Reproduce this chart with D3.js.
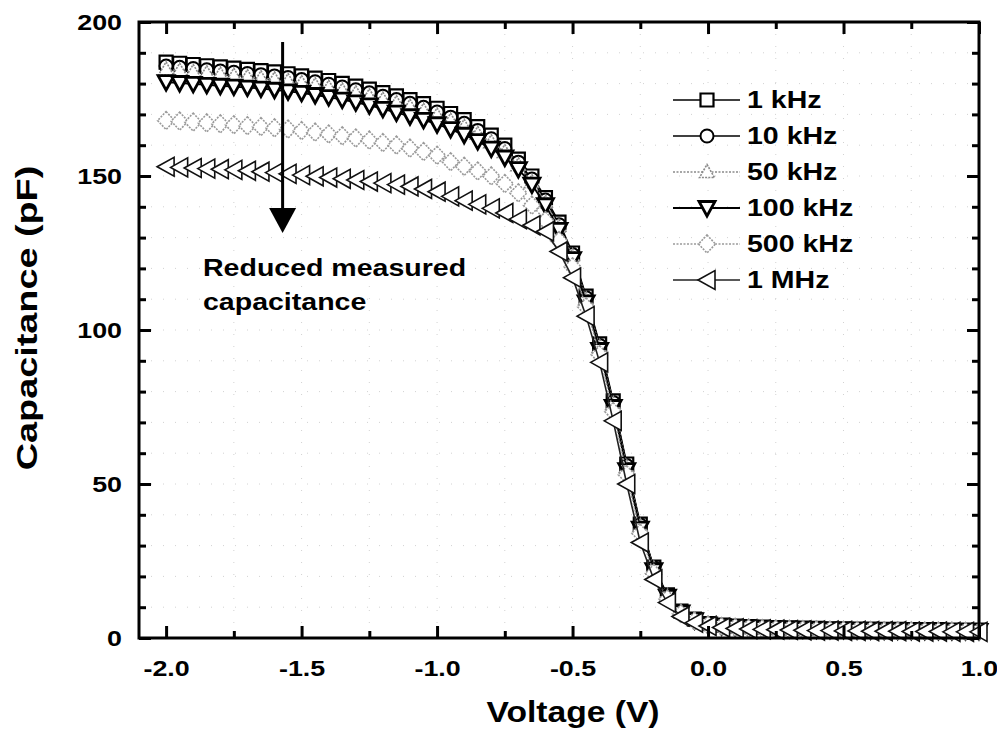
<!DOCTYPE html>
<html>
<head>
<meta charset="utf-8">
<script src="https://cdn.jsdelivr.net/npm/d3@7"></script>
<style>
  html, body { margin: 0; padding: 0; background: #fff; }
  svg { display: block; }
  text { font-family: "Liberation Sans", Arial, sans-serif; font-weight: bold; fill: #000; }
</style>
</head>
<body>
<svg id="chart" width="997" height="740"></svg>
<script>
// Gate-voltage sweep (V)
const voltages = [
  -2.0, -1.95, -1.9, -1.85, -1.8, -1.75, -1.7, -1.65, -1.6, -1.55,
  -1.5, -1.45, -1.4, -1.35, -1.3, -1.25, -1.2, -1.15, -1.1, -1.05,
  -1.0, -0.95, -0.9, -0.85, -0.8, -0.75, -0.7, -0.65, -0.6, -0.55,
  -0.5, -0.45, -0.4, -0.35, -0.3, -0.25, -0.2, -0.15, -0.1, -0.05,
  0.0, 0.05, 0.1, 0.15, 0.2, 0.25, 0.3, 0.35, 0.4, 0.45,
  0.5, 0.55, 0.6, 0.65, 0.7, 0.75, 0.8, 0.85, 0.9, 0.95, 1.0
];

// Measured capacitance (pF) at each test frequency
const cap1k = [
  187.0, 186.6, 186.2, 185.8, 185.4, 185.0, 184.6, 184.2, 183.8, 183.2,
  182.5, 181.8, 181.0, 180.1, 179.2, 178.2, 177.1, 176.0, 174.8, 173.5,
  172.0, 170.3, 168.3, 166.0, 163.3, 160.0, 155.5, 150.0, 143.0, 135.0,
  125.0, 111.0, 95.5, 77.0, 56.5, 37.0, 23.0, 14.0, 8.7, 6.1,
  4.7, 4.2, 3.9, 3.7, 3.5, 3.4, 3.3, 3.2, 3.1, 3.0,
  3.0, 2.9, 2.9, 2.8, 2.8, 2.7, 2.7, 2.7, 2.6, 2.6, 2.6
];
const cap10k = [
  185.7, 185.3, 184.9, 184.5, 184.1, 183.7, 183.3, 182.9, 182.5, 182.0,
  181.3, 180.6, 179.8, 178.9, 178.0, 177.0, 175.9, 174.8, 173.6, 172.3,
  170.8, 169.1, 167.1, 164.8, 162.1, 158.9, 154.5, 149.0, 142.2, 134.2,
  124.5, 110.5, 95.0, 76.5, 56.0, 36.7, 22.8, 13.9, 8.6, 6.0,
  4.6, 4.1, 3.8, 3.6, 3.4, 3.3, 3.2, 3.1, 3.0, 2.9,
  2.9, 2.8, 2.8, 2.7, 2.7, 2.6, 2.6, 2.6, 2.5, 2.5, 2.5
];
const cap50k = [
  184.6, 184.2, 183.8, 183.4, 183.0, 182.6, 182.2, 181.8, 181.4, 180.9,
  180.2, 179.5, 178.7, 177.8, 176.9, 175.9, 174.8, 173.7, 172.5, 171.2,
  169.7, 168.0, 166.0, 163.7, 161.0, 157.8, 153.5, 148.0, 141.4, 133.5,
  124.0, 110.0, 94.5, 76.0, 55.5, 36.3, 22.5, 13.7, 8.5, 5.9,
  4.5, 4.0, 3.7, 3.5, 3.3, 3.2, 3.1, 3.0, 2.9, 2.8,
  2.8, 2.7, 2.7, 2.6, 2.6, 2.5, 2.5, 2.5, 2.4, 2.4, 2.4
];
const cap100k = [
  180.5, 180.2, 179.9, 179.6, 179.3, 179.0, 178.7, 178.4, 178.0, 177.5,
  177.0, 176.3, 175.6, 174.8, 173.9, 172.9, 171.8, 170.6, 169.4, 168.2,
  166.8, 165.2, 163.4, 161.3, 158.9, 156.0, 152.2, 147.2, 140.5, 132.5,
  123.0, 109.0, 93.5, 75.0, 54.5, 35.5, 22.0, 13.4, 8.3, 5.8,
  4.4, 3.9, 3.6, 3.4, 3.2, 3.1, 3.0, 2.9, 2.8, 2.7,
  2.7, 2.6, 2.6, 2.5, 2.5, 2.4, 2.4, 2.4, 2.3, 2.3, 2.3
];
const cap500k = [
  168.0, 167.8, 167.5, 167.2, 166.9, 166.6, 166.3, 166.0, 165.6, 165.2,
  164.7, 164.2, 163.6, 163.0, 162.3, 161.6, 160.8, 160.0, 159.0, 157.9,
  156.7, 154.6, 153.1, 151.6, 150.0, 147.5, 144.5, 140.5, 135.5, 129.0,
  120.5, 107.5, 92.0, 73.5, 53.0, 34.0, 21.0, 12.7, 7.9, 5.5,
  4.2, 3.7, 3.4, 3.2, 3.0, 2.9, 2.8, 2.7, 2.6, 2.5,
  2.5, 2.4, 2.4, 2.3, 2.3, 2.3, 2.2, 2.2, 2.2, 2.1, 2.1
];
const cap1M = [
  153.0, 152.8, 152.6, 152.4, 152.2, 152.0, 151.7, 151.4, 151.1, 150.7,
  150.3, 149.9, 149.5, 149.1, 148.7, 148.2, 147.7, 147.2, 146.6, 145.8,
  144.9, 143.4, 142.0, 140.8, 139.5, 138.0, 136.0, 134.0, 132.0, 125.5,
  117.0, 104.5, 89.5, 70.5, 50.0, 31.0, 19.0, 11.5, 7.0, 5.0,
  3.9, 3.4, 3.1, 2.9, 2.8, 2.7, 2.6, 2.5, 2.4, 2.4,
  2.3, 2.3, 2.2, 2.2, 2.2, 2.1, 2.1, 2.1, 2.0, 2.0, 2.0
];

const seriesNames = ["1 kHz", "10 kHz", "50 kHz", "100 kHz", "500 kHz", "1 MHz"];
const seriesValues = [cap1k, cap10k, cap50k, cap100k, cap500k, cap1M];

// Axis ticks and labels
const xMajorTicks = [-2.0, -1.5, -1.0, -0.5, 0.0, 0.5, 1.0];
const xTickLabels = ["-2.0", "-1.5", "-1.0", "-0.5", "0.0", "0.5", "1.0"];
const xMinorTicks = [-1.75, -1.25, -0.75, -0.25, 0.25, 0.75];
const yMajorTicks = [0, 50, 100, 150, 200];
const yTickLabels = ["0", "50", "100", "150", "200"];
const yMinorTicks = [10, 20, 30, 40, 60, 70, 80, 90, 110, 120, 130, 140, 160, 170, 180, 190];

// Annotation: arrow pointing toward lower capacitance at higher frequency
const arrowVoltage = -1.57;
const arrowFrom = 193.5;
const arrowTo = 131.5;
const noteLines = ["Reduced measured", "capacitance"];

// ---------- drawing ----------
const svg = d3.select("#chart");
const plotL = 139, plotR = 979, plotT = 22, plotB = 638;

const x = d3.scaleLinear().domain([-2.1, 1.0]).range([plotL, plotR]);
const y = d3.scaleLinear().domain([0, 200]).range([plotB, plotT]);

// stretch text horizontally (the bold face in this figure is wide)
function widen(sel, k) {
  sel.each(function () {
    const w = this.getComputedTextLength();
    d3.select(this).attr("textLength", w * k).attr("lengthAdjust", "spacingAndGlyphs");
  });
}

// faint dotted grid
const grid = svg.append("g").attr("stroke", "#d2d2d2").attr("stroke-width", 1)
  .attr("stroke-dasharray", "1,11");
grid.selectAll("line.gx").data(xMinorTicks.concat([-1.5, -1.0, -0.5, 0.0, 0.5]))
  .join("line").attr("class", "gx").attr("x1", d => x(d)).attr("x2", d => x(d))
  .attr("y1", plotT).attr("y2", plotB);
grid.selectAll("line.gy").data(yMinorTicks.concat([50, 100, 150]))
  .join("line").attr("class", "gy").attr("x1", plotL).attr("x2", plotR)
  .attr("y1", d => y(d)).attr("y2", d => y(d));

// marker shapes
const shapes = {
  square: "M-6.5,-6.5H6.5V6.5H-6.5Z",
  circle: "M6.5,0A6.5,6.5 0 1 1 -6.5,0A6.5,6.5 0 1 1 6.5,0Z",
  up: "M0,-7.5L7.5,5.5L-7.5,5.5Z",
  down: "M-8,-6.5L8,-6.5L0,8Z",
  diamond: "M0,-9L8.5,0L0,9L-8.5,0Z",
  left: "M-9,0L8,-9.5L8,9.5Z"
};
const styles = [
  { shape: "square",  line: "#000", lw: 1.6, dash: null,   stroke: "#000", sw: 2.2, sdash: null },
  { shape: "circle",  line: "#000", lw: 1.6, dash: null,   stroke: "#000", sw: 2.0, sdash: null },
  { shape: "up",      line: "#8a8a8a", lw: 1.5, dash: "2,1.5", stroke: "#8a8a8a", sw: 1.6, sdash: "2,1.2" },
  { shape: "down",    line: "#000", lw: 1.8, dash: null,   stroke: "#000", sw: 2.8, sdash: null },
  { shape: "diamond", line: "#9a9a9a", lw: 1.5, dash: "2,1.5", stroke: "#9a9a9a", sw: 1.6, sdash: "2,1.2" },
  { shape: "left",    line: "#222", lw: 1.6, dash: null,   stroke: "#111", sw: 1.6, sdash: null }
];

const lineGen = d3.line().x(d => x(d[0])).y(d => y(d[1]));

seriesValues.forEach((vals, i) => {
  const st = styles[i];
  const pts = voltages.map((v, j) => [v, vals[j]]);
  const g = svg.append("g");
  g.append("path").datum(pts).attr("d", lineGen).attr("fill", "none")
    .attr("stroke", st.line).attr("stroke-width", st.lw)
    .attr("stroke-dasharray", st.dash);
  g.selectAll("path.m").data(pts).join("path").attr("class", "m")
    .attr("transform", d => `translate(${x(d[0])},${y(d[1])})`)
    .attr("d", shapes[st.shape]).attr("fill", "#fff")
    .attr("stroke", st.stroke).attr("stroke-width", st.sw)
    .attr("stroke-dasharray", st.sdash);
});

// frame
svg.append("rect").attr("x", plotL).attr("y", plotT).attr("width", plotR - plotL).attr("height", plotB - plotT)
  .attr("fill", "none").attr("stroke", "#000").attr("stroke-width", 3);

// axes with inward ticks
function styleAxis(g) {
  g.select(".domain").remove();
  g.selectAll(".tick line").attr("stroke", "#000").attr("stroke-width", 3);
}
const axB = svg.append("g").attr("transform", `translate(0,${plotB})`)
  .call(d3.axisBottom(x).tickValues(xMajorTicks).tickSize(-12).tickPadding(22)
    .tickFormat((d, i) => xTickLabels[i])).call(styleAxis);
axB.selectAll("text").attr("font-size", 22).attr("font-family", null).call(widen, 1.22);
svg.append("g").attr("transform", `translate(0,${plotB})`)
  .call(d3.axisBottom(x).tickValues(xMinorTicks).tickSize(-7).tickFormat("")).call(styleAxis);
svg.append("g").attr("transform", `translate(0,${plotT})`)
  .call(d3.axisTop(x).tickValues(xMajorTicks).tickSize(-12).tickFormat("")).call(styleAxis);
svg.append("g").attr("transform", `translate(0,${plotT})`)
  .call(d3.axisTop(x).tickValues(xMinorTicks).tickSize(-7).tickFormat("")).call(styleAxis);

const axL = svg.append("g").attr("transform", `translate(${plotL},0)`)
  .call(d3.axisLeft(y).tickValues(yMajorTicks).tickSize(-12).tickPadding(17)
    .tickFormat((d, i) => yTickLabels[i])).call(styleAxis);
axL.selectAll("text").attr("font-size", 22).attr("font-family", null).call(widen, 1.22);
svg.append("g").attr("transform", `translate(${plotL},0)`)
  .call(d3.axisLeft(y).tickValues(yMinorTicks).tickSize(-7).tickFormat("")).call(styleAxis);
svg.append("g").attr("transform", `translate(${plotR},0)`)
  .call(d3.axisRight(y).tickValues(yMajorTicks).tickSize(-12).tickFormat("")).call(styleAxis);
svg.append("g").attr("transform", `translate(${plotR},0)`)
  .call(d3.axisRight(y).tickValues(yMinorTicks).tickSize(-7).tickFormat("")).call(styleAxis);

// axis titles
svg.append("text").attr("x", 573).attr("y", 722).attr("text-anchor", "middle")
  .attr("font-size", 30).text("Voltage (V)").call(widen, 1.12);
svg.append("text").attr("transform", "translate(37,318) rotate(-90)").attr("text-anchor", "middle")
  .attr("font-size", 30).text("Capacitance (pF)").call(widen, 1.26);

// legend
const legend = svg.append("g");
seriesNames.forEach((name, i) => {
  const st = styles[i];
  const ly = 100 + i * 36;
  legend.append("line").attr("x1", 673).attr("x2", 740).attr("y1", ly).attr("y2", ly)
    .attr("stroke", st.line).attr("stroke-width", st.lw).attr("stroke-dasharray", st.dash);
  legend.append("path").attr("transform", `translate(707,${ly})`).attr("d", shapes[st.shape])
    .attr("fill", "#fff").attr("stroke", st.stroke).attr("stroke-width", st.sw)
    .attr("stroke-dasharray", st.sdash);
  legend.append("text").attr("x", 747).attr("y", ly).attr("dy", "0.36em")
    .attr("font-size", 23).text(name).call(widen, 1.24);
});

// annotation arrow
const arrX = x(arrowVoltage);
const tipY = y(arrowTo);
svg.append("line").attr("x1", arrX).attr("x2", arrX).attr("y1", y(arrowFrom)).attr("y2", tipY - 20)
  .attr("stroke", "#000").attr("stroke-width", 3);
svg.append("path")
  .attr("d", `M${arrX - 13.5},${tipY - 25}L${arrX + 13.5},${tipY - 25}L${arrX},${tipY}Z`)
  .attr("fill", "#000");
noteLines.forEach((t, i) => {
  svg.append("text").attr("x", 203).attr("y", 276 + i * 34).attr("font-size", 23)
    .text(t).call(widen, 1.24);
});
</script>
</body>
</html>
